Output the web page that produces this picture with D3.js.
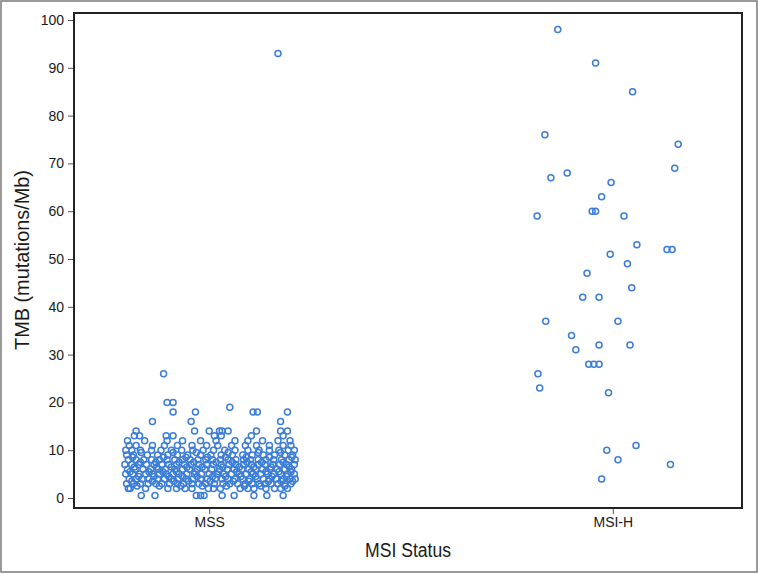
<!DOCTYPE html>
<html>
<head>
<meta charset="utf-8">
<script src="https://cdn.jsdelivr.net/npm/d3@7"></script>
<style>
  html, body { margin: 0; padding: 0; background: #fff; }
  svg text { font-family: "Liberation Sans", Arial, sans-serif; fill: #1a1a1a; }
  .title { font-family: "Liberation Sans Narrow", "Liberation Sans", Arial, sans-serif; }
</style>
</head>
<body>
<div id="chart"></div>
<script>
// strip plot — TMB by MSI status
const categories = ['MSS', 'MSI-H']
const yTicks = [0, 10, 20, 30, 40, 50, 60, 70, 80, 90, 100]

// MSS: TMB levels, and the horizontal spread (percent of half width) of the points at each level
const mssLevels = [0.5, 2, 2.5, 3, 3.5, 4, 4.5, 5, 5.5, 6, 6.5, 7, 7.5, 8, 8.5, 9, 9.5, 10, 11, 12, 13, 14, 16, 18, 19, 20, 26, 93]
const mssSpread = [
  [-79, -63, -15, -10, -6, 15, 29, 52, 67, 86],
  [-94, -92, -74, -48, -38, -28, -20, -1, 5, 13, 36, 45, 52, 66, 76, 83, 91],
  [-84, -58, -33, -8, 20, 41, 60, 88],
  [-96, -88, -80, -71, -62, -55, -46, -37, -30, -20, -12, -4, 6, 16, 24, 33, 42, 50, 58, 65, 72, 80, 88, 95],
  [-90, -66, -41, -24, 1, 28, 46, 69, 84, 97],
  [-93, -85, -78, -70, -60, -52, -44, -36, -27, -19, -10, -2, 7, 15, 22, 30, 39, 47, 56, 63, 70, 78, 86, 94, 100],
  [-82, -64, -47, -31, -14, 4, 19, 37, 54, 73, 90],
  [-97, -89, -81, -74, -66, -58, -50, -42, -35, -26, -17, -9, 0, 9, 17, 26, 35, 43, 51, 60, 68, 75, 83, 91, 99],
  [-92, -70, -54, -38, -16, 11, 32, 49, 66, 81, 95],
  [-95, -86, -77, -68, -59, -51, -40, -31, -23, -14, -5, 3, 12, 21, 29, 38, 46, 54, 62, 71, 79, 88, 96],
  [-87, -61, -44, -26, -8, 16, 35, 52, 72, 93],
  [-98, -90, -82, -73, -64, -55, -47, -38, -29, -21, -12, -3, 5, 14, 23, 31, 40, 49, 57, 65, 74, 82, 90, 99],
  [-80, -62, -35, -18, 8, 27, 44, 61, 86],
  [-94, -85, -76, -67, -58, -49, -40, -31, -22, -13, -4, 4, 13, 22, 31, 40, 48, 57, 66, 75, 84, 93, 100],
  [-89, -53, -27, -2, 19, 43, 70, 96],
  [-96, -88, -72, -60, -48, -37, -25, -10, 2, 14, 27, 39, 50, 63, 76, 88, 97],
  [-79, -42, -15, 22, 57, 83],
  [-97, -90, -80, -67, -56, -44, -32, -19, -7, 5, 18, 30, 45, 58, 70, 81, 92, 99],
  [-93, -85, -66, -52, -37, -20, -3, 10, 26, 42, 55, 70, 86, 95],
  [-95, -75, -49, -31, -10, 8, 30, 45, 62, 80, 94],
  [-87, -81, -50, -42, 6, 14, 49, 86],
  [-85, -17, 0, 12, 15, 22, 55, 83, 91],
  [-66, -21, 83],
  [-42, -16, 51, 56, 91],
  [24],
  [-49, -42],
  [-53],
  [80]
]

// MSI-H: TMB values and horizontal spread (percent of half width)
const msiValues = [98, 91, 85, 76, 74, 69, 68, 67, 66, 63, 59, 60, 60, 59, 53, 52, 52, 51, 49, 47,
  44, 42, 42, 37, 37, 34, 31, 32, 32, 28, 28, 28, 26, 23, 22, 11, 10, 8, 7, 4]
const msiSpread = [-64, -20, 23, -79, 76, 72, -53, -72, -2, -13, -88, -24, -20, 13, 28, 63, 69, -3, 17, -30,
  22, -35, -16, -78, 6, -48, -43, -16, 20, -28, -22, -16, -87, -85, -5, 27, -7, 6, 67, -13]

const W = 758, H = 574
const frame = { left: 74, top: 13, right: 742, bottom: 508 }

const svg = d3.select('#chart').append('svg')
  .attr('width', W).attr('height', H)

// outer border
svg.append('rect')
  .attr('x', 1).attr('y', 1).attr('width', W - 2).attr('height', H - 3)
  .attr('fill', 'none').attr('stroke', '#7a7a7a').attr('stroke-width', 1.5)

const x = d3.scalePoint().domain(categories)
  .range([frame.left + 2, frame.right + 4]).padding(0.33)
const y = d3.scaleLinear().domain([0, 100]).range([498, 20])
const jitter = d3.scaleLinear().domain([-100, 100]).range([-86, 86])

// build points
const points = []
mssLevels.forEach((v, i) => {
  mssSpread[i].forEach(j => points.push({ cat: 'MSS', v, j }))
})
msiValues.forEach((v, i) => points.push({ cat: 'MSI-H', v, j: msiSpread[i] }))

// y axis
const yAxis = svg.append('g')
  .attr('transform', `translate(${frame.left},0)`)
  .call(d3.axisLeft(y).tickValues(yTicks).tickSize(6).tickPadding(4))
yAxis.select('.domain').remove()
yAxis.selectAll('line').attr('stroke', '#555')
yAxis.selectAll('text').attr('font-size', 14).attr('fill', '#1a1a1a')
  .style('font-family', '"Liberation Sans", Arial, sans-serif')

// x axis
const xAxis = svg.append('g')
  .attr('transform', `translate(0,${frame.bottom})`)
  .call(d3.axisBottom(x).tickSize(6).tickPadding(3))
xAxis.select('.domain').remove()
xAxis.selectAll('line').attr('stroke', '#555')
xAxis.selectAll('text').attr('font-size', 14).attr('fill', '#1a1a1a')
  .style('font-family', '"Liberation Sans Narrow", "Liberation Sans", Arial, sans-serif')

// points
svg.append('g').selectAll('circle')
  .data(points).join('circle')
  .attr('cx', d => x(d.cat) + jitter(d.j))
  .attr('cy', d => y(d.v))
  .attr('r', 3)
  .attr('fill', 'none')
  .attr('stroke', '#3b7dd6')
  .attr('stroke-width', 1.5)

// plot frame
svg.append('rect')
  .attr('x', frame.left).attr('y', frame.top)
  .attr('width', frame.right - frame.left).attr('height', frame.bottom - frame.top)
  .attr('fill', 'none').attr('stroke', '#222').attr('stroke-width', 2)

// axis titles
svg.append('text').attr('class', 'title')
  .attr('x', 408).attr('y', 557)
  .attr('text-anchor', 'middle').attr('font-size', 20)
  .attr('textLength', 86).attr('lengthAdjust', 'spacingAndGlyphs')
  .text('MSI Status')

svg.append('text').attr('class', 'title')
  .attr('transform', `translate(29,260) rotate(-90)`)
  .attr('text-anchor', 'middle').attr('font-size', 20)
  .attr('textLength', 180).attr('lengthAdjust', 'spacingAndGlyphs')
  .text('TMB (mutations/Mb)')
</script>
</body>
</html>
